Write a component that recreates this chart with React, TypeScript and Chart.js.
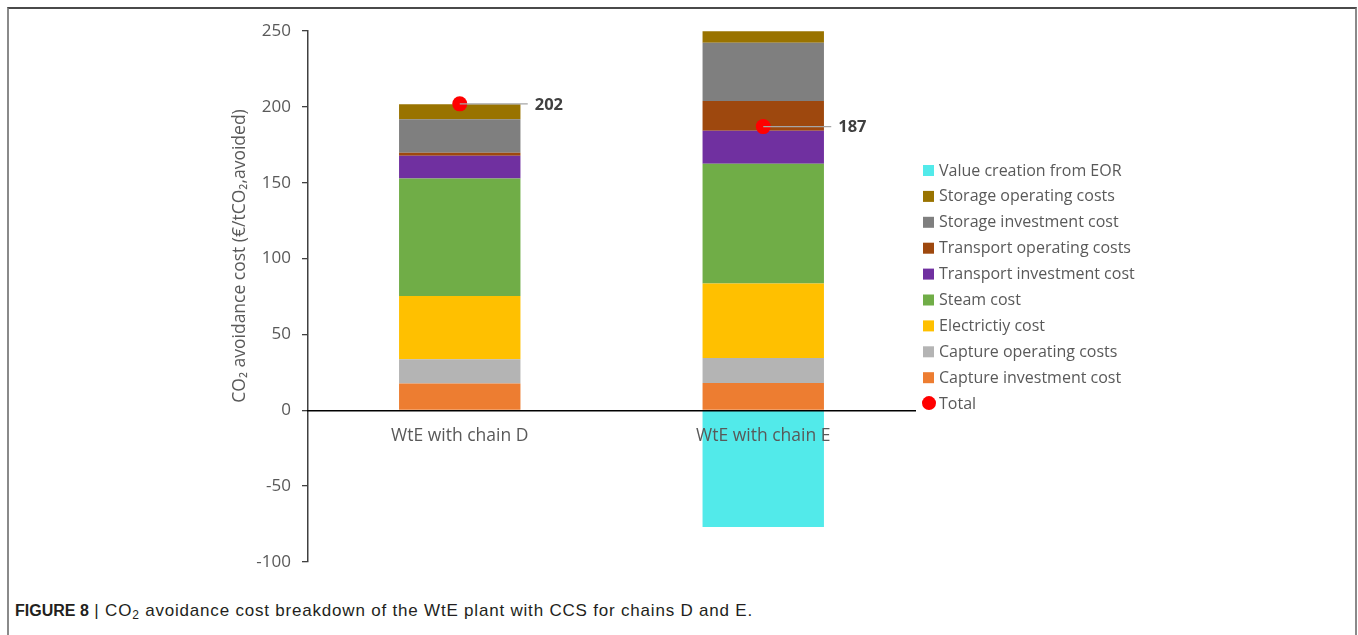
import React, { useEffect, useRef } from "react";
import { Chart, registerables } from "chart.js";

Chart.register(...registerables);

const categories = ["WtE with chain D", "WtE with chain E"];
const seriesLabels = [
  "Capture investment cost",
  "Capture operating costs",
  "Electrictiy cost",
  "Steam cost",
  "Transport investment cost",
  "Transport operating costs",
  "Storage investment cost",
  "Storage operating costs",
  "Value creation from EOR",
];
const seriesColors = [
  "#ED7D31",
  "#B4B4B4",
  "#FFC000",
  "#70AD47",
  "#7030A0",
  "#9E480E",
  "#7F7F7F",
  "#997300",
  "#52EAEA",
];
const captureInvestment = [17.6, 18];
const captureOperating = [16, 16.5];
const electricity = [41.8, 49];
const steam = [77.4, 79];
const transportInvestment = [15, 21.7];
const transportOperating = [2, 19.6];
const storageInvestment = [22, 38.5];
const storageOperating = [10, 7.5];
const eorValue = [0, -77];
const totals = [202, 187];
const totalLabel = "Total";
const yMin = -100;
const yMax = 250;
const yStep = 50;
const yTitle = "CO\u2082 avoidance cost (\u20AC/tCO\u2082,avoided)";

const FONT = "'Open Sans', sans-serif";
const TEXT = "#595959";

const seriesValues = [
  captureInvestment,
  captureOperating,
  electricity,
  steam,
  transportInvestment,
  transportOperating,
  storageInvestment,
  storageOperating,
  eorValue,
];

const extrasPlugin = {
  id: "extras",
  afterDatasetsDraw(chart: any) {
    const ctx = chart.ctx;
    const totalIdx = chart.data.datasets.length - 1;
    const meta = chart.getDatasetMeta(totalIdx);
    ctx.save();
    meta.data.forEach((pt: any, i: number) => {
      ctx.strokeStyle = "#A6A6A6";
      ctx.lineWidth = 1.2;
      ctx.beginPath();
      ctx.moveTo(pt.x, pt.y);
      ctx.lineTo(pt.x + 68, pt.y);
      ctx.stroke();
      ctx.fillStyle = "#404040";
      ctx.font = `bold 16.5px ${FONT}`;
      ctx.textAlign = "left";
      ctx.textBaseline = "middle";
      ctx.fillText(String(totals[i]), pt.x + 75, pt.y + 1);
    });
    ctx.restore();
  },
  afterDraw(chart: any) {
    const ctx = chart.ctx;
    ctx.save();
    // y axis title
    ctx.translate(240, 256);
    ctx.rotate(-Math.PI / 2);
    ctx.fillStyle = TEXT;
    ctx.font = `17.5px ${FONT}`;
    ctx.textAlign = "center";
    ctx.textBaseline = "middle";
    ctx.fillText(yTitle, 0, 0);
    ctx.restore();

    // legend
    ctx.save();
    ctx.font = `16px ${FONT}`;
    ctx.textBaseline = "middle";
    ctx.textAlign = "left";
    const x0 = 923;
    const y0 = 170;
    const step = 25.9;
    const items: { label: string; color: string; dot?: boolean }[] = [];
    for (let i = seriesLabels.length - 1; i >= 0; i--) {
      items.push({ label: seriesLabels[i], color: seriesColors[i] });
    }
    items.push({ label: totalLabel, color: "#FF0000", dot: true });
    items.forEach((it, k) => {
      const y = y0 + k * step;
      ctx.fillStyle = it.color;
      if (it.dot) {
        ctx.beginPath();
        ctx.arc(x0 + 6, y, 7, 0, Math.PI * 2);
        ctx.fill();
      } else {
        ctx.fillRect(x0, y - 5, 11, 11);
      }
      ctx.fillStyle = TEXT;
      ctx.fillText(it.label, x0 + 16, y + 1);
    });
    ctx.restore();
  },
};

function ChartView() {
  const ref = useRef<HTMLCanvasElement>(null);
  useEffect(() => {
    if (!ref.current) return;
    const datasets: any[] = seriesValues.map((vals, i) => ({
      type: "bar",
      label: seriesLabels[i],
      data: vals,
      backgroundColor: seriesColors[i],
      borderWidth: 0,
      stack: "s",
      categoryPercentage: 1,
      barPercentage: 0.4,
      order: 2,
    }));
    datasets.push({
      type: "line",
      label: totalLabel,
      data: totals,
      showLine: false,
      pointRadius: 7.5,
      pointHoverRadius: 7.5,
      pointBackgroundColor: "#FF0000",
      pointBorderWidth: 0,
      borderColor: "#FF0000",
      order: 1,
    });
    const chart = new Chart(ref.current, {
      type: "bar",
      data: { labels: categories, datasets },
      options: {
        responsive: false,
        animation: false,
        events: [],
        layout: { padding: { left: 248, top: 31, right: 443, bottom: 38 } },
        plugins: { legend: { display: false }, tooltip: { enabled: false } },
        scales: {
          x: {
            type: "category",
            stacked: true,
            position: { y: 0 } as any,
            grid: { display: false, drawTicks: false },
            border: { display: true, color: "#000000", width: 1.5, z: 1 } as any,
            ticks: { color: TEXT, font: { family: FONT, size: 17.5 }, padding: 15, z: 1 } as any,
          },
          y: {
            stacked: true,
            min: yMin,
            max: yMax,
            grid: { drawOnChartArea: false, drawTicks: true, tickLength: 6, color: "#404040", lineWidth: 1.3 },
            border: { color: "#404040", width: 1.5 },
            ticks: { stepSize: yStep, color: TEXT, font: { family: FONT, size: 17 }, padding: 11 },
            afterFit: (scale: any) => {
              scale.width = 60;
            },
          } as any,
        },
      },
      plugins: [extrasPlugin],
    });
    return () => chart.destroy();
  }, []);
  return (
    <canvas
      ref={ref}
      width={1358}
      height={600}
      style={{ position: "absolute", left: 0, top: 0, width: 1358, height: 600 }}
    />
  );
}

export default function App() {
  return (
    <div>
      <div
        style={{
          position: "absolute",
          left: 7,
          top: 7,
          width: 1346,
          height: 640,
          borderTop: "2px solid #4a4a4a",
          borderLeft: "2px solid #8a8a8a",
          borderRight: "2px solid #8a8a8a",
        }}
      />
      <ChartView />
      <div
        style={{
          position: "absolute",
          left: 15,
          top: 601,
          fontFamily: "'Liberation Sans', Arial, sans-serif",
          fontSize: 16,
          color: "#231F20",
          whiteSpace: "nowrap",
        }}
      >
        <b>FIGURE 8</b>
        <span style={{ fontSize: 17, letterSpacing: 0.8 }}>
          {" "}| CO<sub style={{ fontSize: 12, verticalAlign: -3 }}>2</sub> avoidance cost breakdown of the WtE plant
          with CCS for chains D and E.
        </span>
      </div>
    </div>
  );
}
